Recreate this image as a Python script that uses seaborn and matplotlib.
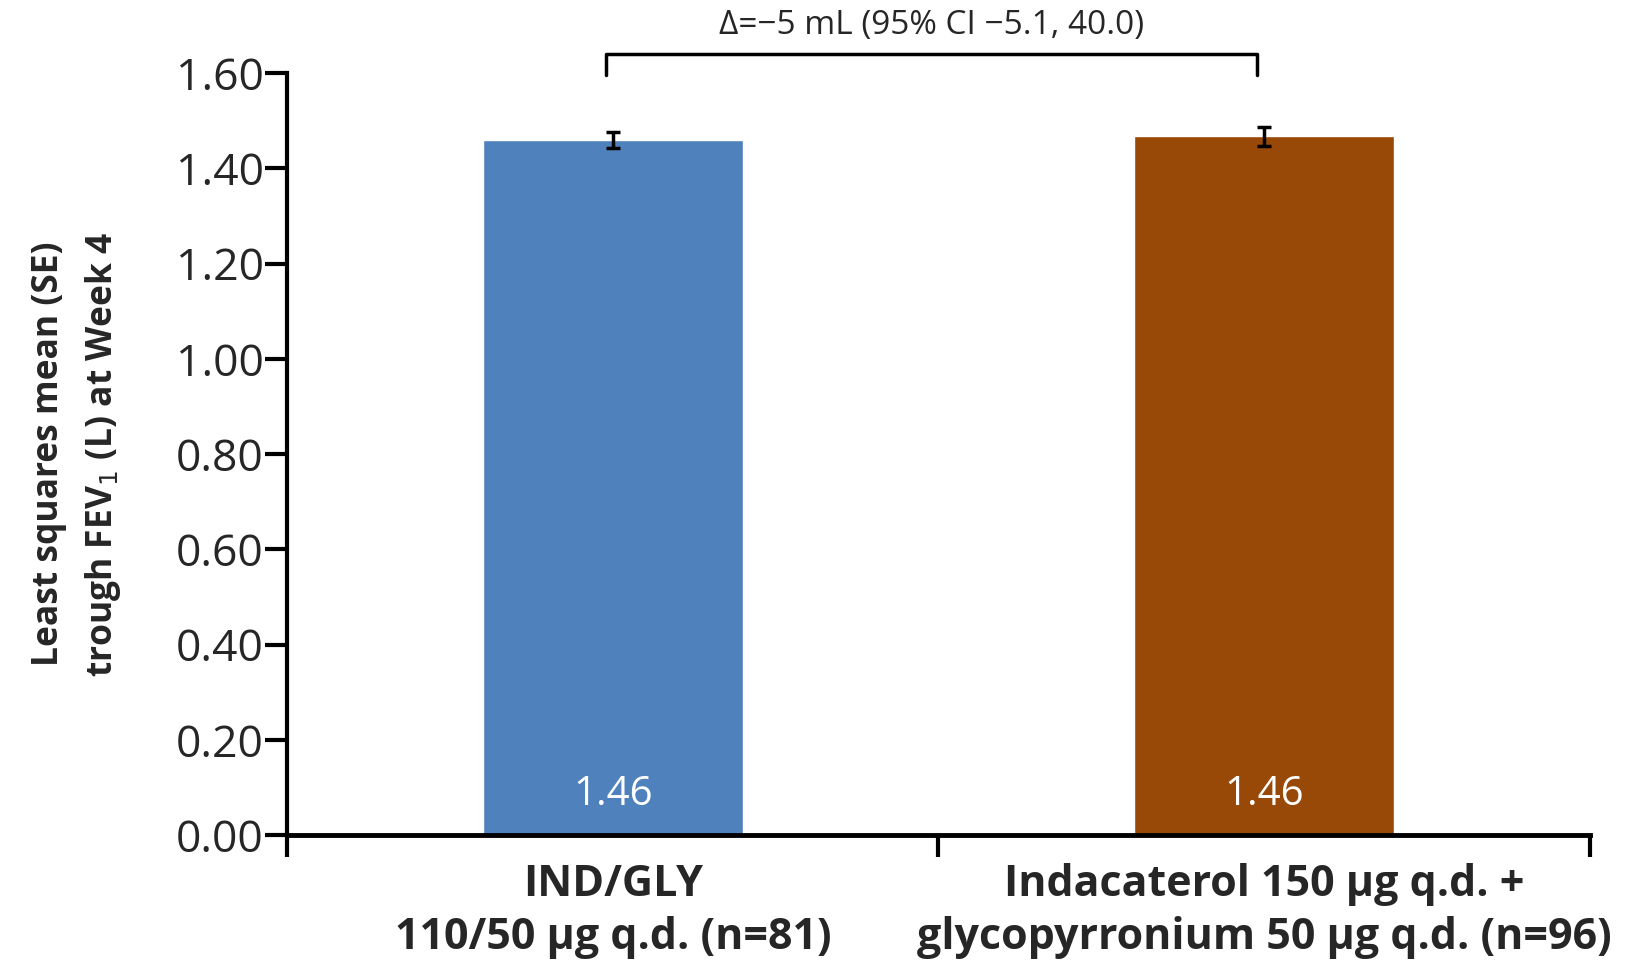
import matplotlib
matplotlib.use("Agg")
import matplotlib.pyplot as plt
import pandas as pd
import seaborn as sns

groups = ["IND/GLY\n110/50 µg q.d. (n=81)",
          "Indacaterol 150 µg q.d. +\nglycopyrronium 50 µg q.d. (n=96)"]
ls_mean = [1.459, 1.467]
se = [0.017, 0.020]
value_labels = ["1.46", "1.46"]
bar_colors = ["#4F81BD", "#984807"]
diff_text = "Δ=−5 mL (95% CI −5.1, 40.0)"
yticks = [0.0, 0.2, 0.4, 0.6, 0.8, 1.0, 1.2, 1.4, 1.6]


def plot_fev1():
    sns.set_theme(style="white")
    plt.rcParams["font.family"] = ["Open Sans", "DejaVu Sans"]

    df = pd.DataFrame({"group": groups, "mean": ls_mean, "se": se})

    fig = plt.figure(figsize=(16.32, 9.6), dpi=100)
    ax = fig.add_axes([0.176, 0.130, 0.798, 0.794])
    sns.barplot(data=df, x="group", y="mean", hue="group", palette=bar_colors,
                width=0.4, legend=False, saturation=1, ax=ax)
    ax.errorbar(range(len(groups)), df["mean"], yerr=df["se"], fmt="none",
                ecolor="black", elinewidth=2.5, capsize=5, capthick=2.5, zorder=5)

    for patch, lab in zip(ax.patches, value_labels):
        ax.text(patch.get_x() + patch.get_width() / 2, 0.043, lab, color="white",
                ha="center", va="bottom", fontsize=29)

    ax.set_xlim(-0.5, 1.5)
    ax.set_ylim(0, 1.6)
    ax.set_yticks(yticks)
    ax.set_yticklabels([f"{t:.2f}" for t in yticks], fontsize=32)
    ax.set_xticks(range(len(groups)))
    ax.set_xticklabels(groups, fontsize=31, fontweight="bold", linespacing=1.3)
    ax.set_xticks([-0.5, 0.5, 1.5], minor=True)
    ax.tick_params(axis="x", which="major", bottom=False, length=0, pad=20)
    ax.tick_params(axis="x", which="minor", bottom=True, length=16, width=3,
                   color="black", direction="out")
    ax.tick_params(axis="y", left=True, length=16, width=3, color="black",
                   direction="out", pad=1)
    ax.set_xlabel("")
    ax.set_ylabel("Least squares mean (SE)\ntrough FEV$_1$ (L) at Week 4",
                  fontsize=25.5, fontweight="bold", labelpad=38, linespacing=1.55)

    sns.despine(ax=ax)
    ax.spines["left"].set_linewidth(3)
    ax.spines["bottom"].set_linewidth(3.5)
    ax.spines["left"].set_color("black")
    ax.spines["bottom"].set_color("black")

    # comparison bracket
    xa, xb = -0.01, 0.99
    ax.plot([xa, xa, xb, xb], [1.595, 1.64, 1.64, 1.595], color="black", lw=2.5,
            clip_on=False)
    ax.text((xa + xb) / 2, 1.665, diff_text, ha="center", va="bottom", fontsize=24)

    fig.savefig("out.png", dpi=100)


if __name__ == "__main__":
    plot_fev1()
